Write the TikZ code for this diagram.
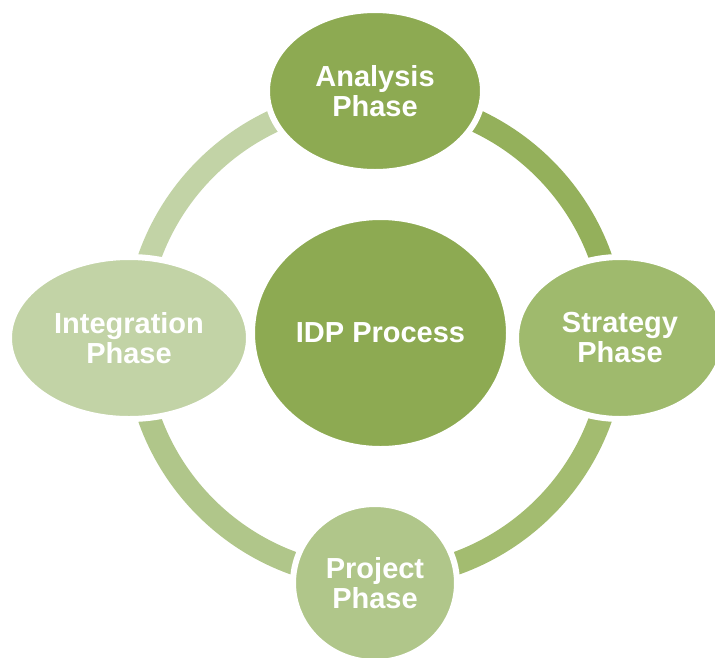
\documentclass[tikz,border=0pt]{standalone}
\usepackage{fontspec}
\setmainfont{Liberation Sans}
\usepackage{tikz}
\usetikzlibrary{shapes.geometric, backgrounds}

\definecolor{leafdark}{HTML}{8DAA52}
\definecolor{leafmid}{HTML}{9FBA6D}
\definecolor{leaflight}{HTML}{B0C68A}
\definecolor{leafpale}{HTML}{C2D3A6}
\definecolor{arcone}{HTML}{94B05B}
\definecolor{arctwo}{HTML}{A3BC70}

\begin{document}
\begin{tikzpicture} [x = 1pt, y = -1pt,
    phase/.style = {ellipse, draw = white, line width = 6pt, text = white, align = center,
        inner sep = 0pt, font = \bfseries\fontsize{29}{30}\selectfont},
    ringarc/.style = {line width = 23pt}]
\useasboundingbox (0,0) rectangle (715,657);
\clip (0,0) rectangle (715,657);
\coordinate (ring) at (375,338);
\node (idp) [phase, fill = leafdark, minimum width = 257, minimum height = 232] at (380.5,333) {IDP Process};
\node (analysis) [phase, fill = leafdark, minimum width = 216, minimum height = 162] at (375,91) {Analysis\\Phase};
\node (strategy) [phase, fill = leafmid, minimum width = 208, minimum height = 162] at (620,338) {Strategy\\Phase};
\node (project) [phase, fill = leaflight, minimum width = 164, minimum height = 158] at (375,583) {Project\\Phase};
\node (integration) [phase, fill = leafpale, minimum width = 240, minimum height = 162] at (129,338) {Integration\\Phase};
\begin{scope}[on background layer]
\draw [ringarc, arcone] ([shift = {(270:239.5)}]ring) arc [start angle = 270, end angle = 360, radius = 239.5];
\draw [ringarc, arctwo] ([shift = {(0:239.5)}]ring) arc [start angle = 0, end angle = 90, radius = 239.5];
\draw [ringarc, leaflight] ([shift = {(90:239.5)}]ring) arc [start angle = 90, end angle = 180, radius = 239.5];
\draw [ringarc, leafpale] ([shift = {(180:239.5)}]ring) arc [start angle = 180, end angle = 270, radius = 239.5];
\end{scope}
\end{tikzpicture}
\end{document}
